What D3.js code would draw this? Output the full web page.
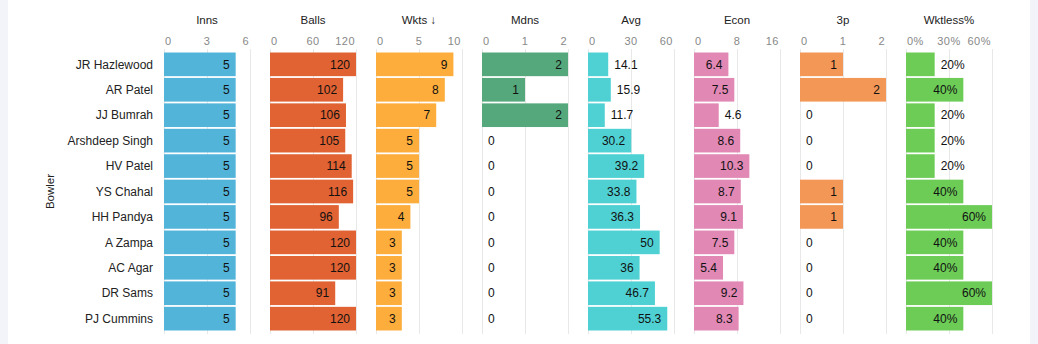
<!DOCTYPE html>
<html>
<head>
<meta charset="utf-8">
<script src="https://cdn.jsdelivr.net/npm/d3@7"></script>
<style>
  body { margin: 0; background: #f2f4f9; }
  #wrap { position: absolute; left: 8px; top: 0; width: 1022px; height: 344px; background: #fff; }
  svg { position: absolute; left: 0; top: 0; font-family: "Liberation Sans", Arial, sans-serif; }
</style>
</head>
<body>
<div id="wrap"></div>
<svg id="chart" width="1038" height="344"></svg>
<script>
// bowling figures, one row per bowler
const bowlers = ['JR Hazlewood', 'AR Patel', 'JJ Bumrah', 'Arshdeep Singh', 'HV Patel', 'YS Chahal',
  'HH Pandya', 'A Zampa', 'AC Agar', 'DR Sams', 'PJ Cummins']
const inns = [5, 5, 5, 5, 5, 5, 5, 5, 5, 5, 5]
const balls = [120, 102, 106, 105, 114, 116, 96, 120, 120, 91, 120]
const wkts = [9, 8, 7, 5, 5, 5, 4, 3, 3, 3, 3]
const mdns = [2, 1, 2, 0, 0, 0, 0, 0, 0, 0, 0]
const avg = [14.1, 15.9, 11.7, 30.2, 39.2, 33.8, 36.3, 50, 36, 46.7, 55.3]
const econ = [6.4, 7.5, 4.6, 8.6, 10.3, 8.7, 9.1, 7.5, 5.4, 9.2, 8.3]
const threeP = [1, 2, 0, 0, 0, 1, 1, 0, 0, 0, 0]
const wktless = [20, 40, 20, 20, 20, 40, 60, 40, 40, 60, 40]

// column titles and their axis ticks
const titles = ['Inns', 'Balls', 'Wkts \u2193', 'Mdns', 'Avg', 'Econ', '3p', 'Wktless%']
const tickValues = [[0, 3, 6], [0, 60, 120], [0, 5, 10], [0, 1, 2], [0, 30, 60], [0, 8, 16], [0, 1, 2], [0, 30, 60]]

const columns = [
  { values: inns, color: '#53b4da', fmt: d => d },
  { values: balls, color: '#e16232', fmt: d => d },
  { values: wkts, color: '#fcad3b', fmt: d => d },
  { values: mdns, color: '#55a87b', fmt: d => d },
  { values: avg, color: '#4fd1d4', fmt: d => d },
  { values: econ, color: '#e188b5', fmt: d => d },
  { values: threeP, color: '#f39756', fmt: d => d },
  { values: wktless, color: '#6ccc56', fmt: d => d + '%' }
]

let svg = d3.select('#chart')

const plotLeft = 164, colW = 86, colGap = 20
const plotTop = 52, plotBottom = 331

let y = d3.scaleBand()
  .domain(bowlers)
  .range([plotTop, plotBottom])
  .paddingInner(0.07)
  .paddingOuter(0.02)

// bowler names
svg.append('g')
  .selectAll('text')
  .data(bowlers)
  .enter()
  .append('text')
  .attr('x', 153)
  .attr('y', d => y(d) + y.bandwidth() / 2)
  .attr('dy', '0.35em')
  .attr('text-anchor', 'end')
  .style('font-size', '12px')
  .style('fill', '#222')
  .text(d => d)

svg.append('text')
  .attr('transform', 'translate(54,' + ((plotTop + plotBottom) / 2) + ') rotate(-90)')
  .attr('text-anchor', 'middle')
  .style('font-size', '11.5px')
  .style('fill', '#222')
  .text('Bowler')

columns.forEach((col, i) => {
  let x0 = plotLeft + i * (colW + colGap)
  let ticks = tickValues[i]
  let x = d3.scaleLinear()
    .domain([0, ticks[ticks.length - 1]])
    .range([x0, x0 + colW])

  let g = svg.append('g')

  // grid lines
  g.selectAll('line.grid')
    .data(ticks)
    .enter()
    .append('line')
    .attr('class', 'grid')
    .attr('x1', d => x(d) + 0.5)
    .attr('x2', d => x(d) + 0.5)
    .attr('y1', 49)
    .attr('y2', 334)
    .style('stroke', '#e8e8e8')

  // tick labels, first and last flush with the column edges
  g.selectAll('text.tick')
    .data(ticks)
    .enter()
    .append('text')
    .attr('class', 'tick')
    .attr('x', (d, j) => j === 0 ? x(d) + 1 : j === ticks.length - 1 ? x(d) - 1 : x(d))
    .attr('y', 45)
    .attr('text-anchor', (d, j) => j === 0 ? 'start' : j === ticks.length - 1 ? 'end' : 'middle')
    .style('font-size', '11px')
    .style('fill', '#888')
    .style('letter-spacing', '0.5px')
    .text(d => i === 7 ? d + '%' : d)

  g.append('text')
    .attr('x', x0 + colW / 2)
    .attr('y', 24)
    .attr('text-anchor', 'middle')
    .style('font-size', '11.5px')
    .style('fill', '#222')
    .text(titles[i])

  g.selectAll('rect')
    .data(col.values)
    .enter()
    .append('rect')
    .attr('x', x0)
    .attr('y', (d, j) => y(bowlers[j]))
    .attr('width', d => x(d) - x0)
    .attr('height', y.bandwidth())
    .style('fill', col.color)

  // value labels: inside the bar when they fit, otherwise just past its end
  g.selectAll('text.val')
    .data(col.values)
    .enter()
    .append('text')
    .attr('class', 'val')
    .attr('y', (d, j) => y(bowlers[j]) + y.bandwidth() / 2)
    .attr('dy', '0.35em')
    .style('font-size', '12px')
    .style('fill', '#111')
    .text(d => col.fmt(d))
    .each(function (d) {
      let w = this.getComputedTextLength()
      let barW = x(d) - x0
      let t = d3.select(this)
      if (barW > w + 10) {
        t.attr('x', x(d) - 6).attr('text-anchor', 'end')
      } else {
        t.attr('x', x(d) + 6).attr('text-anchor', 'start')
      }
    })
})
</script>
</body>
</html>
